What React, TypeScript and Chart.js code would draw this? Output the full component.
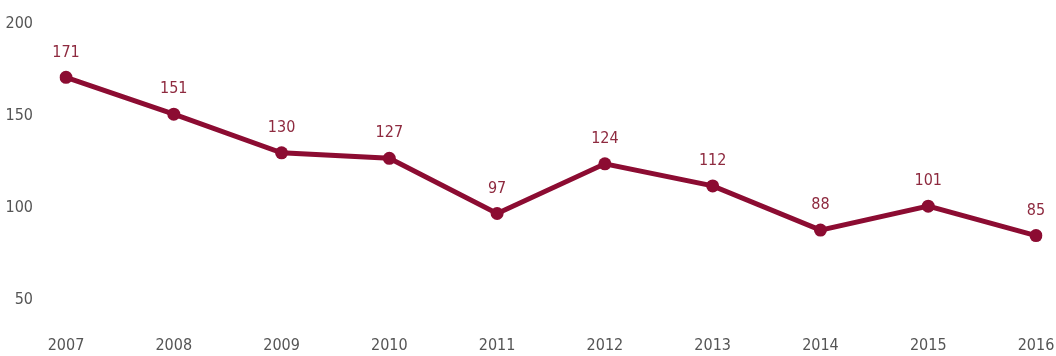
import React, { useEffect, useRef } from "react";
import { Chart, registerables } from "chart.js";

Chart.register(...registerables);

const years = ["2007", "2008", "2009", "2010", "2011", "2012", "2013", "2014", "2015", "2016"];
const values = [171, 151, 130, 127, 97, 124, 112, 88, 101, 85];
const yTicks = [50, 100, 150, 200];

const FONT = "'Liberation Sans Narrow', 'DejaVu Sans Condensed', 'Open Sans', sans-serif";

const valueLabels = {
  id: "valueLabels",
  afterDatasetsDraw(chart: any) {
    const ctx = chart.ctx;
    const meta = chart.getDatasetMeta(0);
    ctx.save();
    ctx.font = `16px ${FONT}`;
    ctx.fillStyle = "#8e2a3f";
    ctx.textAlign = "center";
    ctx.textBaseline = "middle";
    meta.data.forEach((pt: any, i: number) => {
      ctx.fillText(String(values[i]), pt.x, pt.y - 25);
    });
    ctx.restore();
  },
};

export default function App() {
  const ref = useRef<HTMLCanvasElement>(null);
  useEffect(() => {
    const chart = new Chart(ref.current!, {
      type: "line",
      data: {
        labels: years,
        datasets: [
          {
            data: values,
            borderColor: "#8c0c32",
            backgroundColor: "#8c0c32",
            borderWidth: 5,
            pointRadius: 6.5,
            pointBackgroundColor: "#8c0c32",
            pointBorderWidth: 0,
            tension: 0,
          },
        ],
      },
      options: {
        animation: false,
        responsive: false,
        maintainAspectRatio: false,
        layout: { autoPadding: false, padding: { top: 24, right: 20, left: 0, bottom: 0 } },
        plugins: { legend: { display: false }, tooltip: { enabled: false } },
        scales: {
          x: {
            offset: false,
            grid: { display: false, drawTicks: false },
            border: { display: false },
            ticks: { color: "#555", font: { family: FONT, size: 16 }, padding: 36, maxRotation: 0 },
            afterFit: (s: any) => { s.height = 56; s.paddingRight = 0; s.paddingLeft = 0; },
          },
          y: {
            min: 50,
            max: 200,
            afterBuildTicks: (s: any) => { s.ticks = yTicks.map((v) => ({ value: v })); },
            grid: { display: false, drawTicks: false },
            border: { display: false },
            ticks: { color: "#555", font: { family: FONT, size: 16 }, padding: 33 },
            afterFit: (s: any) => { s.width = 66; s.paddingTop = 0; s.paddingBottom = 0; },
          },
        },
      },
      plugins: [valueLabels],
    });
    return () => chart.destroy();
  }, []);
  return (
    <div style={{ position: "fixed", left: 0, top: 0, width: 1056, height: 356, background: "#fff" }}>
      <canvas ref={ref} width={1056} height={356} />
    </div>
  );
}
